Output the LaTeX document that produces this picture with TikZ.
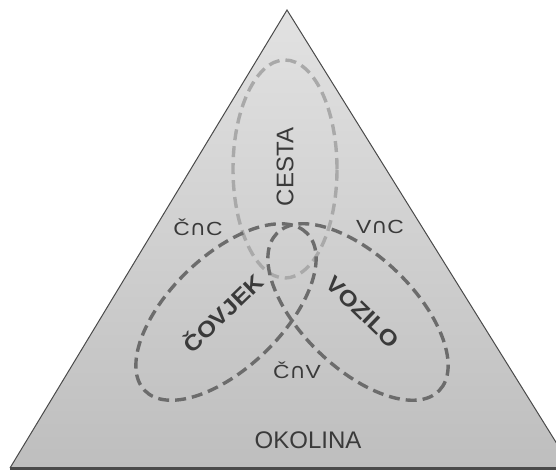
\documentclass[tikz,border=0pt]{standalone}
\usepackage{fontspec}
\setmainfont{Liberation Sans}
\newfontfamily\widefont[FakeStretch=1.2]{Liberation Sans}
\newfontfamily\widesym[FakeStretch=1.05]{DejaVu Sans}
\newfontfamily\boldwide[FakeStretch=1.12]{Liberation Sans Bold}
\definecolor{tritop}{HTML}{E2E2E2}
\definecolor{tribot}{HTML}{BEBEBE}
\definecolor{edgecol}{HTML}{4A4A4A}
\definecolor{lightring}{HTML}{A9A9A9}
\definecolor{darkring}{HTML}{6C6C6C}
\definecolor{txtcol}{HTML}{3A3A3A}
\tikzset{
  setring/.style={line width=3.4pt, dash pattern=on 11pt off 6pt},
  smalllbl/.style={text=txtcol, inner sep=0pt, font=\widefont\fontsize{19}{19}\selectfont},
  biglbl/.style={text=txtcol, inner sep=0pt, font=\fontsize{24}{24}\selectfont},
  boldlbl/.style={text=txtcol, inner sep=0pt, font=\boldwide\fontsize{22}{22}\selectfont},
  edge/.style={draw=edgecol, line width=1pt},
  baseline edge/.style={draw=edgecol, line width=3pt}
}
\newcommand{\isect}{{\widesym\fontsize{21}{21}\selectfont ∩}}
\begin{document}
\begin{tikzpicture}[x=1pt,y=-1pt]
\useasboundingbox (0,0) rectangle (556,471);
\clip (0,0) rectangle (556,471);
\coordinate (apex) at (287,10);
\coordinate (bl) at (10,468);
\coordinate (br) at (572,468);
\shade[top color=tritop, bottom color=tribot] (apex) -- (br) -- (bl) -- cycle;
\draw[edge] (bl) -- (apex) -- (br);
\draw[baseline edge] (bl) -- (br);
% sets
\coordinate (cc) at (285,169);
\coordinate (cl) at (226,312);
\coordinate (cr) at (358,312);
\draw[setring, lightring] (cc) ellipse [x radius=52pt, y radius=109pt];
\draw[setring, darkring, rotate around={44:(cl)}] (cl) ellipse [x radius=113pt, y radius=56pt];
\draw[setring, darkring, rotate around={-44:(cr)}] (cr) ellipse [x radius=113pt, y radius=56pt];
% labels
\node[biglbl, rotate=90] (tcesta) at (285,167) {CESTA};
\node[boldlbl, rotate=44] (tcov) at (222,312) {ČOVJEK};
\node[boldlbl, rotate=-44] (tvoz) at (363,312) {VOZILO};
\node[smalllbl] (tcnc) at (198,227) {Č\isect C};
\node[smalllbl] (tvnc) at (380,227) {V\isect C};
\node[smalllbl] (tcnv) at (297,370) {Č\isect V};
\node[biglbl] (tokol) at (308,440) {OKOLINA};
\end{tikzpicture}
\end{document}
